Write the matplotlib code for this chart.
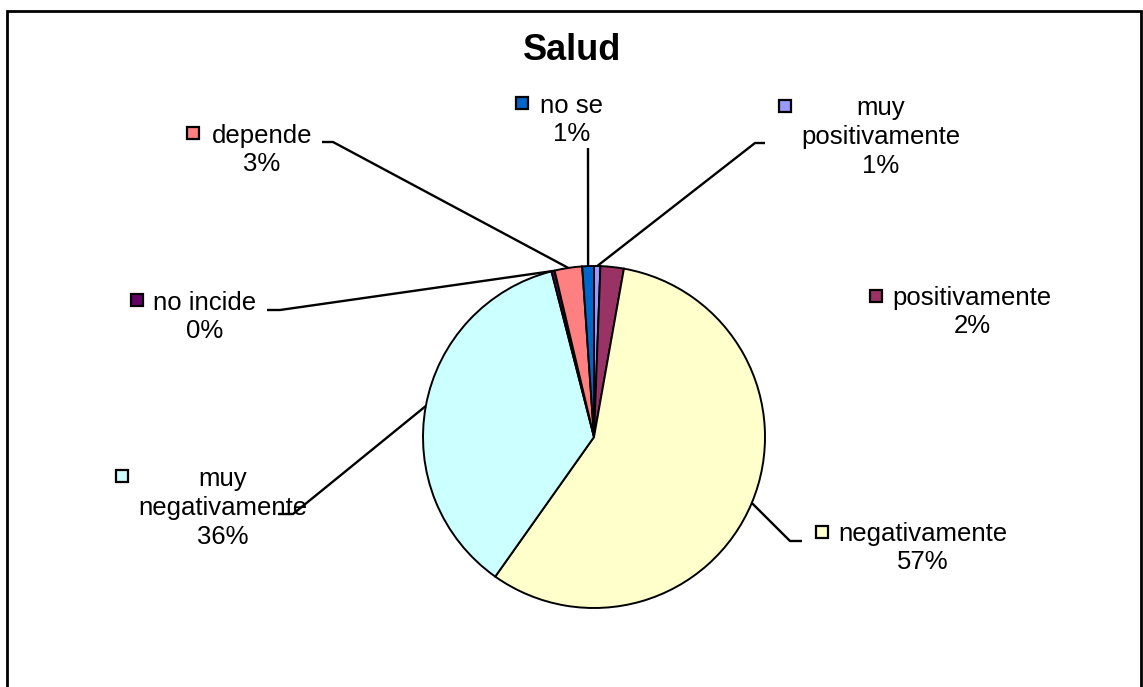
import numpy as np
import matplotlib
matplotlib.use("Agg")
import matplotlib.pyplot as plt
import matplotlib.patches as mpatches

plt.rcParams['font.family'] = ['Liberation Sans', 'DejaVu Sans']

# datos (porcentajes aproximados, orden de Excel en sentido horario desde arriba)
categorias = ["muy\npositivamente", "positivamente", "negativamente",
              "muy\nnegativamente", "no incide", "depende", "no se"]
valores = [0.6, 2.2, 57.0, 36.2, 0.3, 2.6, 1.1]
colores = ["#9999FF", "#993366", "#FFFFCC", "#CCFFFF", "#660066", "#FF8080", "#0066CC"]

W, H = 1143, 687
fig = plt.figure(figsize=(W / 100, H / 100), dpi=100)
ax = fig.add_axes([0, 0, 1, 1])

def py(y):
    # coordenadas de pixel (y hacia abajo) -> datos
    return H - y

cx, cy, r = 594, py(437), 171
wedges, _ = ax.pie(valores, colors=colores, startangle=90, counterclock=False,
                   center=(cx, cy), radius=r,
                   wedgeprops=dict(edgecolor='black', linewidth=1.4))

ax.set_xlim(0, W)
ax.set_ylim(0, H)
ax.set_aspect('equal')
ax.axis('off')

# posiciones de etiquetas (centro del texto), marcador y quiebre de la línea guía
texto_pos = [(881, 137), (972, 312), (923, 548), (223, 508), (205, 317), (262, 150), (572, 120)]
marca_pos = [(785, 106), (876, 296), (822, 532), (122, 476), (137, 300), (193, 133), (522, 103)]
guias = [[(755, 143), (765, 143)], None, [(790, 541), (802, 541)],
         [(293, 514), (278, 514)], [(280, 310), (267, 310)],
         [(333, 142), (322, 142)], [(588, 148)]]

total = sum(valores)
for w, cat, v, tp, mp, g, col in zip(wedges, categorias, valores, texto_pos, marca_pos, guias, colores):
    pct = v / total * 100
    ax.text(tp[0], py(tp[1]), f"{cat}\n{pct:.0f}%", ha='center', va='center',
            multialignment='center', fontsize=18.5, linespacing=1.25, color='black')
    ax.plot(mp[0], py(mp[1]), marker='s', markersize=8.5, markerfacecolor=col,
            markeredgecolor='black', markeredgewidth=1.6)
    if g is not None:
        ang = np.deg2rad((w.theta1 + w.theta2) / 2)
        xs = [cx + r * np.cos(ang)] + [p[0] for p in g]
        ys = [cy + r * np.sin(ang)] + [py(p[1]) for p in g]
        ax.plot(xs, ys, color='black', lw=1.7, solid_capstyle='butt')

ax.text(572, py(50), "Salud", ha='center', va='center', fontsize=26, fontweight='bold')

# marco del gráfico
marco = mpatches.Rectangle((7, py(700)), 1134, 689, fill=False, edgecolor='black',
                           linewidth=2, clip_on=False)
ax.add_patch(marco)

fig.savefig("out.png", dpi=100, facecolor='white')
